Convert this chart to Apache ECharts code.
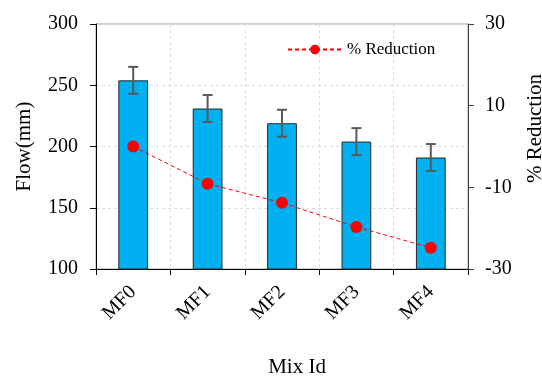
<!DOCTYPE html>
<html>
<head>
<meta charset="utf-8">
<script src="https://cdn.jsdelivr.net/npm/echarts@6/dist/echarts.min.js"></script>
<style>
  html, body { margin: 0; padding: 0; background: #fff; }
  #chart { width: 542px; height: 376px; }
</style>
</head>
<body>
<div id="chart"></div>
<script>
const mixIds = ['MF0', 'MF1', 'MF2', 'MF3', 'MF4'];
const flow = [254, 231, 219, 204, 191];
const flowErr = [11, 11, 11, 11, 11];
const reduction = [0, -9.1, -13.8, -19.7, -24.8];

const font = 'Liberation Serif';

let errData = flow.map((v, i) => [i, v - flowErr[i], v + flowErr[i]]);

let myChart = echarts.init(document.getElementById('chart'), null, { renderer: 'canvas' });

let option = {
  animation: false,
  textStyle: { fontFamily: font },
  grid: {
    left: 96, right: 74, top: 24, bottom: 107,
    outerBoundsMode: 'none',
    containLabel: false,
    show: true,
    borderColor: '#a0a0a0',
    borderWidth: 1
  },
  legend: {
    left: 282,
    top: 36,
    itemWidth: 54,
    itemHeight: 12,
    itemGap: 6,
    data: ['% Reduction'],
    textStyle: { fontFamily: font, fontSize: 17, color: '#000' }
  },
  xAxis: {
    type: 'category',
    data: mixIds,
    name: 'Mix Id',
    nameLocation: 'middle',
    nameGap: 88,
    nameTextStyle: { fontFamily: font, fontSize: 21, color: '#000', padding: [0, 0, 0, 30] },
    axisLine: { onZero: false, lineStyle: { color: '#000', width: 1 } },
    axisTick: { show: true, alignWithLabel: false, length: 6, lineStyle: { color: '#000' } },
    axisLabel: { rotate: 45, fontFamily: font, fontSize: 20, color: '#000', margin: 20 },
    splitLine: { show: true, lineStyle: { color: '#dcdcdc', type: [3, 3] } }
  },
  yAxis: [
    {
      type: 'value',
      min: 100,
      max: 300,
      interval: 50,
      name: 'Flow(mm)',
      nameLocation: 'middle',
      nameGap: 61,
      nameTextStyle: { fontFamily: font, fontSize: 21, color: '#000' },
      axisLine: { show: true, lineStyle: { color: '#000', width: 1 } },
      axisTick: { show: true, length: 6, lineStyle: { color: '#000' } },
      axisLabel: { fontFamily: font, fontSize: 20, color: '#000', margin: 18 },
      splitLine: { show: true, lineStyle: { color: '#dcdcdc', type: [3, 3] } }
    },
    {
      type: 'value',
      min: -30,
      max: 30,
      interval: 20,
      name: '% Reduction',
      nameLocation: 'middle',
      nameRotate: 90,
      nameGap: 57,
      nameTextStyle: { fontFamily: font, fontSize: 21, color: '#000', padding: [0, 0, 0, 36] },
      axisLine: { show: true, lineStyle: { color: '#404040', width: 1 } },
      axisTick: { show: true, length: 6, lineStyle: { color: '#404040' } },
      axisLabel: { fontFamily: font, fontSize: 20, color: '#000', margin: 17 },
      splitLine: { show: false }
    }
  ],
  series: [
    {
      name: 'Flow',
      type: 'bar',
      data: flow,
      barWidth: '40%',
      itemStyle: { color: '#00b0f0', borderColor: '#262626', borderWidth: 1 },
      z: 2
    },
    {
      name: 'error',
      type: 'custom',
      data: errData,
      z: 3,
      renderItem: function (params, api) {
        let x = api.value(0);
        let lo = api.coord([x, api.value(1)]);
        let hi = api.coord([x, api.value(2)]);
        let half = 5;
        let style = { stroke: '#595959', lineWidth: 2 };
        return {
          type: 'group',
          children: [
            { type: 'line', shape: { x1: hi[0], y1: hi[1], x2: lo[0], y2: lo[1] }, style: style },
            { type: 'line', shape: { x1: hi[0] - half, y1: hi[1], x2: hi[0] + half, y2: hi[1] }, style: style },
            { type: 'line', shape: { x1: lo[0] - half, y1: lo[1], x2: lo[0] + half, y2: lo[1] }, style: style }
          ]
        };
      }
    },
    {
      name: '% Reduction',
      type: 'line',
      yAxisIndex: 1,
      data: reduction,
      symbol: 'circle',
      symbolSize: 12,
      itemStyle: { color: '#ff0000' },
      lineStyle: { color: '#ff0000', width: 1, type: [4, 3] },
      z: 4
    }
  ]
};

myChart.setOption(option);
</script>
</body>
</html>
